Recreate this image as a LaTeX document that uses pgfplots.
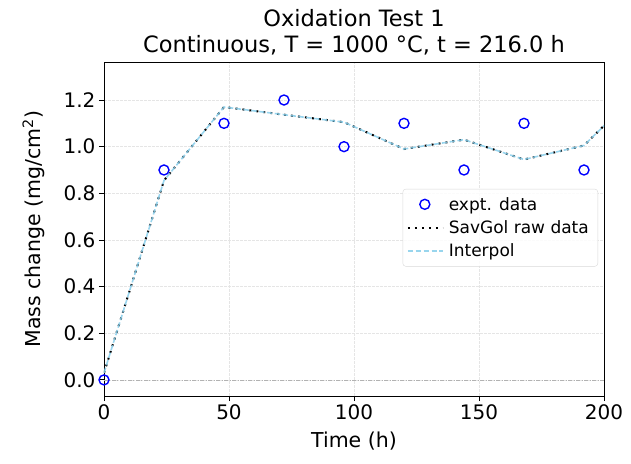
\documentclass[border=0pt]{standalone}
\usepackage{pgfplots}
\pgfplotsset{compat=1.18}
\usepackage{fontspec}
\setmainfont{DejaVu Sans}
\definecolor{skyblue}{HTML}{87CEEB}
\pgfplotsset{
  lineleg/.style={legend image code/.code={\draw[##1] (0pt,0pt) -- (35pt,0pt);}},
  markleg/.style={legend image code/.code={\draw[##1] plot coordinates {(17pt,0pt)};}},
}
\begin{document}
\begin{tikzpicture}[x=1pt,y=1pt]
\begin{axis}[
  scale only axis,
  width=500pt, height=334pt,
  xmin=0, xmax=200, ymin=-0.069, ymax=1.363,
  xtick={0,50,100,150,200},
  ytick={0,0.2,0.4,0.6,0.8,1.0,1.2},
  yticklabel style={/pgf/number format/.cd,fixed,fixed zerofill,precision=1},
  /pgf/number format/assume math mode=true,
  tick label style={font=\fontsize{20}{24}\selectfont},
  label style={font=\fontsize{20.5}{24}\selectfont},
  xlabel={Time (h)},
  ylabel={Mass change (mg/cm\textsuperscript{2})},
  xlabel style={yshift=-5pt},
  ylabel style={yshift=12pt},
  tick align=outside,
  major tick length=5pt,
  tick style={black, line width=0.9pt},
  axis line style={line width=0.9pt},
  xtick pos=bottom, ytick pos=left,
  grid=major,
  major grid style={gray!20, line width=0.8pt, dash pattern=on 3pt off 1pt},
  title style={font=\fontsize{22.5}{26}\selectfont, align=center, yshift=-3pt},
  title={Oxidation Test 1\\Continuous, T = 1000 °C, t = 216.0 h},
  legend style={at={(0.988,0.62)}, anchor=north east, font=\fontsize{17}{21}\selectfont,
    draw=gray!30, rounded corners=3pt, fill=white, fill opacity=0.85, text opacity=1,
    row sep=5pt, inner xsep=4pt, inner ysep=6pt, nodes={inner xsep=5pt}},
  legend cell align=left,
  clip=true,
]
\addplot[gray!60, line width=0.6pt, dash pattern=on 4pt off 1.5pt on 1pt off 1.5pt, forget plot] coordinates {(0,0) (200,0)};
\addplot[only marks, mark=o, mark size=5pt, blue, mark options={line width=1.4pt}, markleg] coordinates {
(0,0) (24,0.9) (48,1.1) (72,1.2) (96,1.0) (120,1.1) (144,0.9) (168,1.1) (192,0.9) (216,1.0)};
\addlegendentry{expt. data}
\addplot[black, line width=2pt, dash pattern=on 2pt off 5pt, lineleg] coordinates {
(0,0.03) (24,0.855) (48,1.17) (72,1.137) (96,1.105) (120,0.99) (144,1.03) (168,0.945) (192,1.005) (200,1.09) (216,1.2)};
\addlegendentry{SavGol raw data}
\addplot[skyblue, line width=1.6pt, dash pattern=on 5.5pt off 2.4pt, opacity=0.85, lineleg] coordinates {
(0,0.03) (24,0.855) (48,1.17) (72,1.137) (96,1.105) (120,0.99) (144,1.03) (168,0.945) (192,1.005) (200,1.09) (216,1.2)};
\addlegendentry{Interpol}
\end{axis}
\pgfresetboundingbox
\useasboundingbox ([shift={(-104pt,-67pt)}]current axis.south west) rectangle ([shift={(27pt,62pt)}]current axis.north east);
\end{tikzpicture}
\end{document}
